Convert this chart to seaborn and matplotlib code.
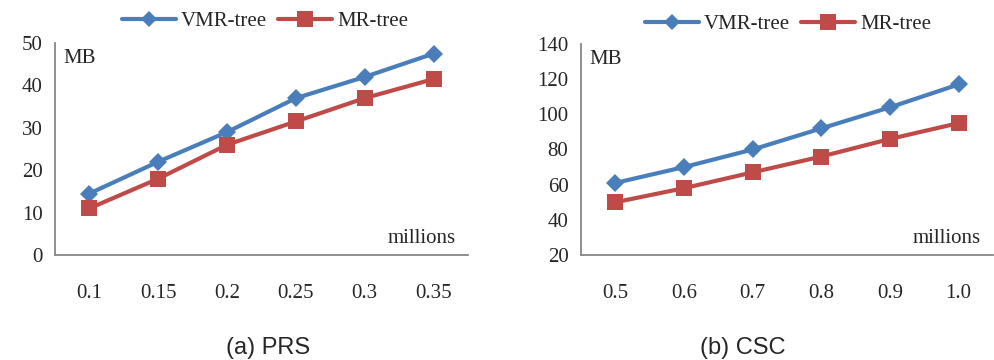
import matplotlib
matplotlib.use("Agg")
import matplotlib.pyplot as plt
import seaborn as sns
import pandas as pd
import numpy as np

# ---- data ----
prs_labels = ["0.1", "0.15", "0.2", "0.25", "0.3", "0.35"]
prs_vmr = [14.5, 22, 29, 37, 42, 47.5]
prs_mr = [11, 18, 26, 31.5, 37, 41.5]

csc_labels = ["0.5", "0.6", "0.7", "0.8", "0.9", "1.0"]
csc_vmr = [61, 70, 80, 92, 104, 117]
csc_mr = [50, 58, 67, 76, 86, 95]

series_names = ["VMR-tree", "MR-tree"]
captions = ["(a) PRS", "(b) CSC"]

sns.set_theme(style="white")
plt.rcParams["font.family"] = ["Liberation Serif", "DejaVu Serif"]

BLUE = "#4A7EBB"
RED = "#BE4B48"
AXC = "#868686"
FS = 15

fig = plt.figure(figsize=(9.95, 3.6), dpi=100)
W, H = 995, 360


def make_ax(l, r, t, b):
    return fig.add_axes([l / W, (H - b) / H, (r - l) / W, (b - t) / H])


ax1 = make_ax(55, 468, 43, 255)
ax2 = make_ax(581, 993, 44, 255)


def draw(ax, labels, vmr, mr, ylim, yticks, legend_anchor):
    df = pd.DataFrame({
        "pos": list(range(len(labels))) * 2,
        "val": list(vmr) + list(mr),
        "series": [series_names[0]] * len(labels) + [series_names[1]] * len(labels),
    })
    sns.lineplot(data=df, x="pos", y="val", hue="series", style="series",
                 palette={series_names[0]: BLUE, series_names[1]: RED},
                 markers={series_names[0]: "D", series_names[1]: "s"},
                 dashes=False, linewidth=3, markeredgewidth=0, ax=ax)
    for line, ms in zip(ax.get_lines()[:2], [9, 11]):
        line.set_markersize(ms)
    n = len(labels)
    ax.set_xlim(-0.5, n - 0.5)
    ax.set_ylim(*ylim)
    ax.set_yticks(yticks)
    ax.set_yticklabels([str(v) for v in yticks], fontsize=FS)
    ax.set_xticks(np.arange(-0.5, n, 1.0))
    ax.set_xticklabels([])
    ax.set_xticks(range(n), minor=True)
    ax.set_xticklabels(labels, minor=True, fontsize=FS)
    ax.tick_params(axis="x", which="major", length=6, width=1.2, color=AXC, direction="out")
    ax.tick_params(axis="x", which="minor", length=0, pad=21)
    ax.tick_params(axis="y", length=5, width=1.2, color=AXC, direction="out", pad=4)
    ax.set_xlabel("")
    ax.set_ylabel("")
    for s in ["top", "right"]:
        ax.spines[s].set_visible(False)
    for s in ["left", "bottom"]:
        ax.spines[s].set_color(AXC)
        ax.spines[s].set_linewidth(1.3)
    ax.text(0.02, 0.97, "MB", transform=ax.transAxes, fontsize=FS, va="top", ha="left")
    ax.text(0.97, 0.035, "millions", transform=ax.transAxes, fontsize=FS, va="bottom", ha="right")
    handles, labs = ax.get_legend_handles_labels()
    leg = ax.legend(handles, labs, loc="center", bbox_to_anchor=legend_anchor,
                    bbox_transform=fig.transFigure, ncol=2, frameon=False,
                    fontsize=FS, handlelength=2.6, columnspacing=0.5, handletextpad=0.25,
                    borderaxespad=0)
    for h, ms in zip(leg.legend_handles, [8, 11]):
        h.set_markersize(ms)
        h.set_linewidth(3)


draw(ax1, prs_labels, prs_vmr, prs_mr, (0, 50), [0, 10, 20, 30, 40, 50], (265 / W, 1 - 21 / H))
draw(ax2, csc_labels, csc_vmr, csc_mr, (20, 140), [20, 40, 60, 80, 100, 120, 140], (788 / W, 1 - 24 / H))

fig.text(268 / W, 1 - 348 / H, captions[0], fontsize=17, ha="center", va="center",
         family=["Liberation Sans", "DejaVu Sans"])
fig.text(743 / W, 1 - 348 / H, captions[1], fontsize=17, ha="center", va="center",
         family=["Liberation Sans", "DejaVu Sans"])

fig.savefig("out.png", dpi=100, facecolor="white")
